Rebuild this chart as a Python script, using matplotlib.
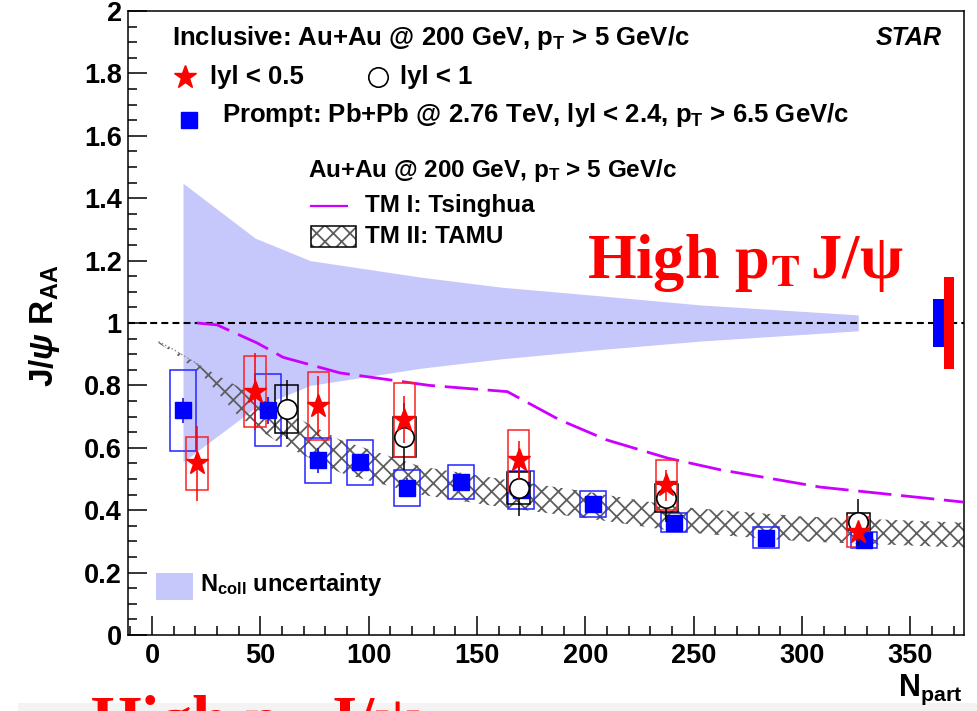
import matplotlib
matplotlib.use("Agg")
import matplotlib.pyplot as plt
from matplotlib.patches import Rectangle
from matplotlib.lines import Line2D
from matplotlib.ticker import MultipleLocator, FormatStrFormatter

# ---------------- data ----------------
# STAR inclusive J/psi, |y| < 0.5
star05_npart = [20.9, 47.6, 76.8, 116.5, 169.2, 237.4, 326.0]
star05_raa = [0.55, 0.78, 0.734, 0.69, 0.56, 0.48, 0.33]
star05_stat = [0.12, 0.124, 0.095, 0.075, 0.062, 0.05, 0.03]
star05_sys = [0.085, 0.114, 0.108, 0.118, 0.097, 0.08, 0.047]

# STAR inclusive J/psi, |y| < 1
star1_npart = [62.2, 116.5, 169.2, 237.4, 326.0]
star1_raa = [0.723, 0.636, 0.47, 0.438, 0.363]
star1_stat = [0.095, 0.108, 0.09, 0.075, 0.073]
star1_sys = [0.077, 0.064, 0.051, 0.045, 0.028]

# CMS prompt J/psi, Pb+Pb 2.76 TeV
cms_npart = [14.2, 53.7, 76.5, 96.0, 117.6, 142.7, 170.2, 203.5, 241.0, 283.5, 328.5]
cms_raa = [0.72, 0.72, 0.56, 0.553, 0.472, 0.49, 0.465, 0.42, 0.36, 0.312, 0.304]
cms_stat = [0.04, 0.044, 0.04, 0.02, 0.03, 0.02, 0.02, 0.015, 0.015, 0.012, 0.01]
cms_sys = [0.13, 0.115, 0.072, 0.072, 0.058, 0.055, 0.06, 0.043, 0.03, 0.033, 0.025]

# global normalisation uncertainties (drawn at R_AA = 1)
cms_global = 0.077
star_global = 0.148

# N_coll uncertainty band
ncoll_npart = [14.3, 47.6, 73.0, 124.0, 161.0, 207.0, 253.0, 326.0]
ncoll_hi = [1.448, 1.272, 1.20, 1.147, 1.115, 1.087, 1.058, 1.026]
ncoll_lo = [0.555, 0.728, 0.80, 0.855, 0.885, 0.915, 0.942, 0.975]

# TM I: Tsinghua
tm1_npart = [20.8, 30.0, 48.5, 60.5, 86.8, 128.0, 164.0, 188.0, 210.0, 238.0, 262.0, 308.5, 374.6]
tm1_raa = [1.0, 0.994, 0.936, 0.89, 0.84, 0.80, 0.78, 0.69, 0.625, 0.567, 0.53, 0.474, 0.426]

# TM II: TAMU band
tm2_npart = [3.0, 10.0, 23.0, 40.0, 60.0, 87.0, 124.0, 161.0, 200.0, 244.0, 300.0, 375.0]
tm2_hi = [0.94, 0.915, 0.86, 0.795, 0.72, 0.625, 0.54, 0.50, 0.46, 0.41, 0.38, 0.36]
tm2_lo = [0.935, 0.905, 0.835, 0.70, 0.61, 0.52, 0.45, 0.41, 0.375, 0.33, 0.30, 0.28]

xticks = [0, 50, 100, 150, 200, 250, 300, 350]

# ---------------- style ----------------
plt.rcParams["font.family"] = ["Liberation Sans", "DejaVu Sans"]
plt.rcParams["font.weight"] = "bold"
plt.rcParams["mathtext.fontset"] = "custom"
plt.rcParams["mathtext.rm"] = "Liberation Sans:bold"
plt.rcParams["mathtext.bf"] = "Liberation Sans:bold"
plt.rcParams["mathtext.it"] = "Liberation Sans:italic"
plt.rcParams["hatch.linewidth"] = 1.3
plt.rcParams["lines.scale_dashes"] = False

RED = "#ff0000"
BLUE = "#0000ff"
BAND = "#c6c8fb"
MAG = "#cc00ff"
HATCH = "#5e5e5e"

W, H = 978, 711
fig = plt.figure(figsize=(W / 100, H / 100), dpi=100)
ax = fig.add_axes([128 / W, 1 - 635 / H, 836 / W, 624 / H])


def fx(px):
    return px / W


def fy(py):
    return 1 - py / H


ax.set_xlim(-11.1, 374.8)
ax.set_ylim(0, 2.0)

# N_coll uncertainty band
ax.fill_between(ncoll_npart, ncoll_lo, ncoll_hi, color=BAND, lw=0, zorder=1)

# TAMU model band
ax.fill_between(tm2_npart, tm2_lo, tm2_hi, facecolor="none", edgecolor=HATCH,
                hatch="xx", lw=0, zorder=2)
ax.plot(tm2_npart[:3], tm2_hi[:3], ls=":", color="#8a8a8a", lw=1.0, zorder=2)

# unity line
ax.axhline(1.0, color="black", lw=1.5, dashes=(5, 3), zorder=3)

# Tsinghua model curve
ax.plot(tm1_npart, tm1_raa, color=MAG, lw=2.0, dashes=(24, 7), zorder=3)


def sys_boxes(xs, ys, sys, half_w, color):
    for x, y, s in zip(xs, ys, sys):
        ax.add_patch(Rectangle((x - half_w, y - s), 2 * half_w, 2 * s,
                               facecolor="none", edgecolor=color, lw=1.1, zorder=4))


sys_boxes(cms_npart, cms_raa, cms_sys, 6.0, "#2525ff")
sys_boxes(star1_npart, star1_raa, star1_sys, 5.3, "black")
sys_boxes(star05_npart, star05_raa, star05_sys, 5.0, "#ff2020")

ax.errorbar(cms_npart, cms_raa, yerr=cms_stat, fmt="s", color=BLUE, ms=11,
            mec=BLUE, elinewidth=1.1, capsize=0, zorder=5)
ax.errorbar(star1_npart, star1_raa, yerr=star1_stat, fmt="o", color="black",
            mfc="white", mec="black", mew=1.2, ms=14, elinewidth=1.1,
            capsize=0, zorder=6)
ax.errorbar(star05_npart, star05_raa, yerr=star05_stat, fmt="*", color=RED,
            ms=17, mec=RED, elinewidth=1.1, capsize=0, zorder=7)

# global uncertainties at unity
ax.add_patch(Rectangle((360.3, 1 - cms_global), 5.1, 2 * cms_global,
                       facecolor=BLUE, edgecolor="none", zorder=6))
ax.add_patch(Rectangle((365.4, 1 - star_global), 5.0, 2 * star_global,
                       facecolor=RED, edgecolor="none", zorder=6))

# ---------------- axes ----------------
for sp in ax.spines.values():
    sp.set_linewidth(1.1)
ax.xaxis.set_major_locator(MultipleLocator(50))
ax.xaxis.set_minor_locator(MultipleLocator(10))
ax.yaxis.set_major_locator(MultipleLocator(0.2))
ax.yaxis.set_minor_locator(MultipleLocator(0.05))
ax.yaxis.set_major_formatter(FormatStrFormatter("%g"))
ax.set_xticks(xticks)
ax.set_xticklabels([str(v) for v in xticks])
ax.tick_params(which="both", direction="in", top=False, right=False, width=1.1)
ax.tick_params(which="major", length=13.5)
ax.tick_params(which="minor", length=6.5)
ax.tick_params(axis="x", pad=5.5, labelsize=19.5)
ax.tick_params(axis="y", pad=4.5, labelsize=19.5)
for lab in ax.get_xticklabels() + ax.get_yticklabels():
    lab.set_fontweight("bold")

fig.text(fx(44), fy(326), r"J/$\psi$ R$_{\mathbf{AA}}$", rotation=90,
         ha="center", va="center", fontsize=24, fontweight="bold")
fig.text(fx(962), fy(690), r"N$_{\mathbf{part}}$", ha="right", va="center",
         fontsize=22, fontweight="bold")

# ---------------- legends ----------------
LFS1 = 18.5
LFS2 = 17.5
fig.text(fx(172), fy(38), r"Inclusive: Au+Au @ 200 GeV, p$_{\mathbf{T}}$ > 5 GeV/c",
         ha="left", va="center", fontsize=LFS1)
fig.text(fx(942), fy(38), "STAR", ha="right", va="center", fontsize=18,
         fontstyle="italic", fontweight="bold")

fig.add_artist(Line2D([fx(185)], [fy(77)], marker="*", ms=17, color=RED,
                      mec=RED, ls="none"))
fig.text(fx(210), fy(77), "lyl < 0.5", ha="left", va="center", fontsize=LFS1)
fig.add_artist(Line2D([fx(378)], [fy(77)], marker="o", ms=14, mfc="white",
                      mec="black", mew=1.2, ls="none"))
fig.text(fx(400), fy(77), "lyl < 1", ha="left", va="center", fontsize=LFS1)

fig.add_artist(Line2D([fx(189)], [fy(120)], marker="s", ms=11, color=BLUE,
                      ls="none"))
fig.text(fx(222), fy(115),
         r"Prompt: Pb+Pb @ 2.76 TeV, lyl < 2.4, p$_{\mathbf{T}}$ > 6.5 GeV/c",
         ha="left", va="center", fontsize=LFS1)

fig.text(fx(308), fy(170), r"Au+Au @ 200 GeV, p$_{\mathbf{T}}$ > 5 GeV/c",
         ha="left", va="center", fontsize=LFS2)
fig.add_artist(Line2D([fx(311), fx(347)], [fy(206), fy(206)], color=MAG, lw=1.6))
fig.text(fx(365), fy(206), "TM I: Tsinghua", ha="left", va="center", fontsize=LFS2)
fig.add_artist(Rectangle((fx(311), fy(247)), fx(356) - fx(311), fy(226) - fy(247),
                         transform=fig.transFigure, facecolor="white",
                         edgecolor=HATCH, hatch="xx", lw=0))
fig.add_artist(Rectangle((fx(311), fy(247)), fx(356) - fx(311), fy(226) - fy(247),
                         transform=fig.transFigure, facecolor="none",
                         edgecolor="black", lw=1.1))
fig.text(fx(365), fy(237), "TM II: TAMU", ha="left", va="center", fontsize=LFS2)

fig.add_artist(Rectangle((fx(156), fy(600)), fx(193) - fx(156), fy(573) - fy(600),
                         transform=fig.transFigure, facecolor=BAND,
                         edgecolor="none"))
fig.text(fx(200), fy(585), r"N$_{\mathbf{coll}}$ uncertainty", ha="left",
         va="center", fontsize=17)

# ---------------- slide annotations ----------------
fig.text(fx(587), fy(278), r"High p$_{\mathbf{T}}\,$J/ψ", ha="left",
         va="baseline", fontsize=45, color=RED, family="Liberation Serif",
         fontweight="bold", math_fontfamily="stix")

fig.add_artist(Rectangle((fx(18), 0), 1 - fx(18), fy(703),
                         transform=fig.transFigure, facecolor="#f3f3f3",
                         edgecolor="none", zorder=0))
fig.text(fx(90), fy(741), r"High p$_{\mathbf{T}}\,$J/ψ", ha="left",
         va="baseline", fontsize=47, color=RED, family="Liberation Serif",
         fontweight="bold", math_fontfamily="stix", zorder=5)

fig.savefig("out.png", dpi=100)
